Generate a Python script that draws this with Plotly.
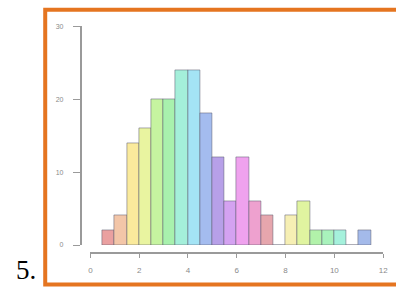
import plotly.graph_objects as go

# data (histogram bins, width 0.5)
bin_centers = [0.75, 1.25, 1.75, 2.25, 2.75, 3.25, 3.75, 4.25, 4.75, 5.25, 5.75,
               6.25, 6.75, 7.25, 7.75, 8.25, 8.75, 9.25, 9.75, 10.25, 10.75, 11.25]
counts = [2, 4, 14, 16, 20, 20, 24, 24, 18, 12, 6, 12, 6, 4, 0, 4, 6, 2, 2, 2, 0, 2]
x_ticks = [0, 2, 4, 6, 8, 10, 12]
x_tick_labels = ["0", "2", "4", "6", "8", "10", "12"]
y_ticks = [0, 10, 20, 30]
y_tick_labels = ["0", "10", "20", "30"]

bar_colors = ['#eaa0a0', '#f3c6a8', '#faea9c', '#e9f4a0', '#c6f4a0', '#a8f1ad',
              '#a4efda', '#a4e4f5', '#a4bcef', '#b7a0e8', '#d4a2f1', '#efa2ee',
              '#eea1cf', '#e6a6ad', '#f5cba6', '#f6efb4', '#e0f4a0', '#b2f2aa',
              '#a9f2bc', '#a5f1dc', '#a6e1f4', '#a4baea']

fig = go.Figure()
fig.add_trace(go.Bar(
    x=bin_centers, y=counts, width=0.5,
    marker=dict(color=bar_colors, line=dict(color='rgba(90,90,110,0.5)', width=1)),
    showlegend=False, hoverinfo='skip'))

axis_col = '#9a9a9a'
fig.update_layout(
    width=396, height=290,
    margin=dict(l=0, r=0, t=0, b=0),
    paper_bgcolor='white', plot_bgcolor='rgba(0,0,0,0)',
    bargap=0,
    xaxis=dict(domain=[90/396, 388/396], range=[0, 12], anchor='free',
               position=(290-255)/290, showline=True, linecolor=axis_col, linewidth=1.5,
               ticks='outside', ticklen=4, tickcolor=axis_col, tickwidth=1.2,
               tickvals=x_ticks, ticktext=x_tick_labels, ticklabelstandoff=6,
               tickfont=dict(size=8, color='#8a8a8a', family='Liberation Sans'),
               showgrid=False, zeroline=False, fixedrange=True),
    yaxis=dict(domain=[(290-247)/290, (290-23)/290], range=[0, 30], anchor='free',
               position=80/396, showline=True, linecolor=axis_col, linewidth=1.5,
               ticks='outside', ticklen=7, tickcolor=axis_col, tickwidth=1.2,
               tickvals=y_ticks, ticktext=y_tick_labels, ticklabelstandoff=8,
               tickfont=dict(size=7, color='#8a8a8a', family='Liberation Sans'),
               showgrid=False, zeroline=False, fixedrange=True),
    shapes=[dict(type='rect', xref='paper', yref='paper',
                 x0=44/396, x1=1.05, y0=(290-287.5)/290, y1=(290-6)/290,
                 line=dict(color='#e57520', width=4), fillcolor='rgba(0,0,0,0)', layer='above')],
    annotations=[dict(text='5.', xref='paper', yref='paper', x=12/396, y=0,
                      xanchor='left', yanchor='bottom', yshift=0, showarrow=False,
                      font=dict(size=27, color='black', family='Liberation Serif'))],
)

fig.write_html("out.html", config={'displayModeBar': False},
               post_script="document.body.style.margin='0';document.body.style.overflow='hidden';")
